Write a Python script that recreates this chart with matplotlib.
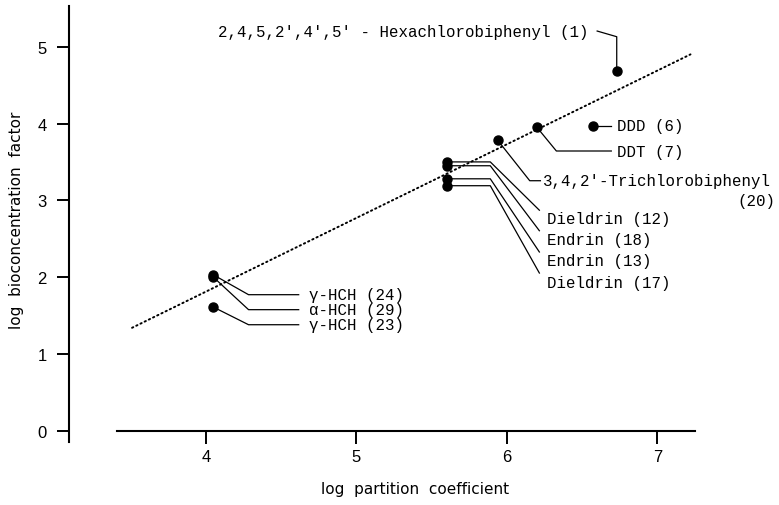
import matplotlib
matplotlib.use("Agg")
import matplotlib.pyplot as plt

# ---------------- data ----------------
compounds = ["2,4,5,2',4',5' - Hexachlorobiphenyl (1)", "DDD (6)", "DDT (7)",
             "3,4,2'-Trichlorobiphenyl", "Dieldrin (12)", "Endrin (18)",
             "Endrin (13)", "Dieldrin (17)", "γ-HCH (24)", "α-HCH (29)", "γ-HCH (23)"]
log_partition = [6.73, 6.57, 6.20, 5.94, 5.60, 5.60, 5.60, 5.60, 4.05, 4.05, 4.05]
log_bcf = [4.69, 3.97, 3.95, 3.78, 3.50, 3.45, 3.28, 3.19, 2.03, 2.00, 1.61]

fit_x = [3.51, 7.22]
fit_y = [1.34, 4.90]

x_ticks = [4, 5, 6, 7]
y_ticks = [0, 1, 2, 3, 4, 5]

# ---------------- layout (label positions & leader elbows, data units) ----------------
label_layout = [
    dict(text=(6.541, 5.204), ha="right", path=[(6.73, 5.13), (6.60, 5.204)]),
    dict(text=(6.734, 3.97), ha="left", path=[(6.694, 3.97)]),
    dict(text=(6.734, 3.642), ha="left", path=[(6.329, 3.642), (6.694, 3.642)]),
    dict(text=(6.243, 3.255), ha="left", path=[(6.152, 3.255), (6.223, 3.255)]),
    dict(text=(6.269, 2.757), ha="left", path=[(5.89, 3.50), (6.216, 2.871)]),
    dict(text=(6.269, 2.487), ha="left", path=[(5.89, 3.45), (6.216, 2.604)]),
    dict(text=(6.269, 2.210), ha="left", path=[(5.89, 3.28), (6.216, 2.327)]),
    dict(text=(6.269, 1.936), ha="left", path=[(5.89, 3.19), (6.216, 2.053)]),
    dict(text=(4.688, 1.771), ha="left", path=[(4.284, 1.771), (4.617, 1.771)]),
    dict(text=(4.688, 1.576), ha="left", path=[(4.284, 1.576), (4.617, 1.576)]),
    dict(text=(4.688, 1.380), ha="left", path=[(4.284, 1.380), (4.617, 1.380)]),
]
extra_line = dict(text="(20)", pos=(7.784, 2.991))

W, H = 779, 506
fig = plt.figure(figsize=(W / 100, H / 100), dpi=100)
# axes: x from px 117 to 695, y from px 443 (bottom) to 7 (top)
ax = fig.add_axes([117 / W, (H - 443) / H, (695 - 117) / W, (443 - 7) / H])
ax.set_xlim(3.41, 7.25)
ax.set_ylim(-0.147, 5.53)

for s in ["top", "right"]:
    ax.spines[s].set_visible(False)
ax.spines["left"].set_position(("outward", (117 - 69) * 0.72))
ax.spines["bottom"].set_position(("data", 0))
ax.spines["left"].set_linewidth(1.5)
ax.spines["bottom"].set_linewidth(1.5)

ax.set_xticks(x_ticks)
ax.set_yticks(y_ticks)
ax.set_xticklabels([str(v) for v in x_ticks], family="Liberation Sans", fontsize=12)
ax.set_yticklabels([str(v) for v in y_ticks], family="Liberation Sans", fontsize=12)
ax.tick_params(axis="x", direction="out", length=9.4, width=1.4, pad=3.5)
ax.tick_params(axis="y", direction="out", length=8.6, width=1.4, pad=7.5)

# fitted line
ax.plot(fit_x, fit_y, color="black", lw=1.4, linestyle=(0, (0.7, 1.7)),
        dash_capstyle="round", zorder=2)

# points
ax.plot(log_partition, log_bcf, "o", color="black", markersize=6.5, zorder=4)

mono = "Liberation Mono"
for name, px, py, lay in zip(compounds, log_partition, log_bcf, label_layout):
    xs = [px] + [p[0] for p in lay["path"]]
    ys = [py] + [p[1] for p in lay["path"]]
    ax.plot(xs, ys, color="black", lw=0.9, zorder=3, clip_on=False)
    ax.text(lay["text"][0], lay["text"][1], name, ha=lay["ha"], va="center",
            family=mono, fontsize=11.3, clip_on=False)
ax.text(extra_line["pos"][0], extra_line["pos"][1], extra_line["text"], ha="right",
        va="center", family=mono, fontsize=11.3, clip_on=False)

fig.text(17 / W, 1 - 220 / H, "log  bioconcentration  factor", rotation=90,
         ha="center", va="center", family="DejaVu Sans", fontsize=11)
fig.text(415 / W, 1 - 490 / H, "log  partition  coefficient",
         ha="center", va="center", family="DejaVu Sans", fontsize=11)

fig.savefig("out.png", dpi=100)
